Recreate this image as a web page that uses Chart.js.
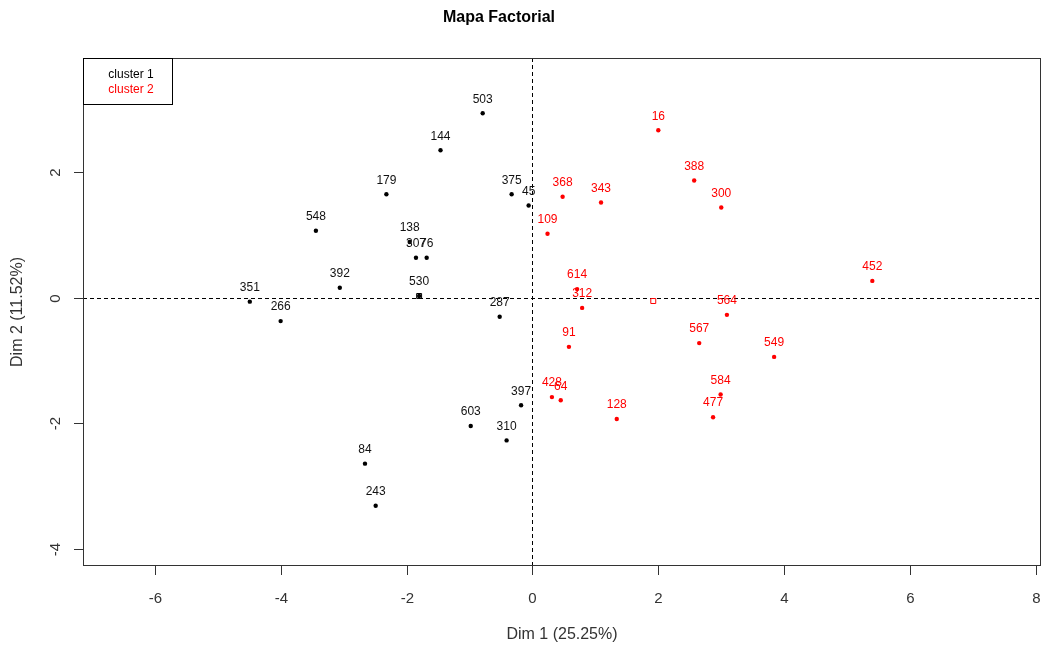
<!DOCTYPE html>
<html><head><meta charset="utf-8">
<script src="https://cdn.jsdelivr.net/npm/chart.js@4/dist/chart.umd.min.js"></script>
<style>html,body{margin:0;padding:0;background:#fff;}canvas{display:block;}</style>
</head><body>
<canvas id="c" width="1042" height="646"></canvas>
<script>
// Cluster 1 (black)
const c1Labels = ['503','144','179','548','138','307','76','392','530','351','266','287','375','45','397','603','310','84','243'];
const c1X = [-0.79,-1.46,-2.32,-3.44,-1.95,-1.85,-1.68,-3.06,-1.80,-4.49,-4.00,-0.52,-0.33,-0.06,-0.18,-0.98,-0.41,-2.66,-2.49];
const c1Y = [2.94,2.35,1.65,1.07,0.89,0.64,0.64,0.16,0.03,-0.06,-0.37,-0.30,1.65,1.47,-1.71,-2.04,-2.27,-2.64,-3.31];
// Cluster 2 (red)
const c2Labels = ['16','388','300','368','343','109','452','614','312','564','567','549','91','428','64','128','584','477'];
const c2X = [2.00,2.57,3.00,0.48,1.09,0.24,5.40,0.71,0.79,3.09,2.65,3.84,0.58,0.31,0.45,1.34,2.99,2.87];
const c2Y = [2.67,1.87,1.44,1.61,1.52,1.02,0.27,0.14,-0.16,-0.27,-0.72,-0.94,-0.78,-1.58,-1.63,-1.93,-1.54,-1.90];
// Cluster centres
const centreX = [-1.80, 1.92];
const centreY = [0.03, -0.05];
// Axis ticks
const xTicks = [-6,-4,-2,0,2,4,6,8];
const yTicks = [-4,-2,0,2];
const legendNames = ['cluster 1','cluster 2'];
const colours = ['#000000','#FF0000'];

const toPts = (xs, ys) => xs.map((v, i) => ({x: v, y: ys[i]}));
const FONT = '"Liberation Sans", Arial, sans-serif';

const drawPlugin = {
  id: 'rstyle',
  beforeDatasetsDraw(chart) {
    const {ctx, chartArea: a, scales: {x, y}} = chart;
    ctx.save();
    ctx.strokeStyle = '#000';
    ctx.lineWidth = 1;
    ctx.setLineDash([4, 3]);
    const x0 = Math.round(x.getPixelForValue(0)) + 0.5;
    const y0 = Math.round(y.getPixelForValue(0)) + 0.5;
    ctx.beginPath(); ctx.moveTo(x0, a.top); ctx.lineTo(x0, a.bottom); ctx.stroke();
    ctx.beginPath(); ctx.moveTo(a.left, y0); ctx.lineTo(a.right, y0); ctx.stroke();
    ctx.restore();
  },
  afterDatasetsDraw(chart) {
    const {ctx, chartArea: a, scales: {x, y}} = chart;
    ctx.save();
    // point labels
    ctx.font = '12px ' + FONT;
    ctx.textAlign = 'center';
    ctx.textBaseline = 'middle';
    [[0, c1Labels], [1, c2Labels]].forEach(([di, labs]) => {
      const meta = chart.getDatasetMeta(di);
      ctx.fillStyle = di === 0 ? '#111' : '#FF0000';
      meta.data.forEach((el, i) => ctx.fillText(labs[i], el.x, el.y - 14));
    });
    // box
    ctx.strokeStyle = '#333';
    ctx.lineWidth = 1;
    ctx.strokeRect(a.left + 0.5, a.top + 0.5, a.right - a.left - 1, a.bottom - a.top - 1);
    // x ticks
    ctx.fillStyle = '#333';
    ctx.font = '15px ' + FONT;
    xTicks.forEach(v => {
      const px = Math.round(x.getPixelForValue(v)) + 0.5;
      ctx.beginPath(); ctx.moveTo(px, a.bottom); ctx.lineTo(px, a.bottom + 9); ctx.stroke();
      ctx.fillText(String(v), px, 599);
    });
    // y ticks (rotated labels)
    yTicks.forEach(v => {
      const py = Math.round(y.getPixelForValue(v)) + 0.5;
      ctx.beginPath(); ctx.moveTo(a.left, py); ctx.lineTo(a.left - 9, py); ctx.stroke();
      ctx.save();
      ctx.translate(56, py);
      ctx.rotate(-Math.PI / 2);
      ctx.fillText(String(v), 0, 0);
      ctx.restore();
    });
    // axis titles
    ctx.font = '16px ' + FONT;
    ctx.fillText('Dim 1 (25.25%)', (a.left + a.right) / 2, 635);
    ctx.save();
    ctx.translate(18, (a.top + a.bottom) / 2);
    ctx.rotate(-Math.PI / 2);
    ctx.fillText('Dim 2 (11.52%)', 0, 0);
    ctx.restore();
    // main title
    ctx.fillStyle = '#000';
    ctx.font = 'bold 16px ' + FONT;
    ctx.fillText('Mapa Factorial', 499, 18);
    // legend
    ctx.strokeStyle = '#000';
    ctx.fillStyle = '#fff';
    ctx.fillRect(a.left, a.top, 89, 46);
    ctx.strokeRect(a.left + 0.5, a.top + 0.5, 89, 46);
    ctx.font = '12px ' + FONT;
    legendNames.forEach((n, i) => {
      ctx.fillStyle = colours[i];
      ctx.fillText(n, a.left + 48, 75 + i * 15);
    });
    ctx.restore();
  }
};

new Chart(document.getElementById('c'), {
  type: 'scatter',
  data: {
    datasets: [
      {data: toPts(c1X, c1Y), backgroundColor: '#000', borderColor: '#000', pointRadius: 2.2, pointHoverRadius: 2.2, borderWidth: 0},
      {data: toPts(c2X, c2Y), backgroundColor: '#FF0000', borderColor: '#FF0000', pointRadius: 2.2, pointHoverRadius: 2.2, borderWidth: 0},
      {data: [{x: centreX[0], y: centreY[0]}], pointStyle: 'rect', backgroundColor: 'rgba(0,0,0,0)', borderColor: '#000', borderWidth: 1, pointRadius: 3.5},
      {data: [{x: centreX[1], y: centreY[1]}], pointStyle: 'rect', backgroundColor: '#fff', borderColor: '#FF0000', borderWidth: 1, pointRadius: 3.5}
    ]
  },
  options: {
    responsive: false,
    devicePixelRatio: 1,
    animation: false,
    layout: {autoPadding: false, padding: {left: 83, top: 58, right: 1, bottom: 80}},
    plugins: {legend: {display: false}, tooltip: {enabled: false}},
    scales: {
      x: {type: 'linear', display: false, min: -7.14, max: 8.08},
      y: {type: 'linear', display: false, min: -4.27, max: 3.82}
    }
  },
  plugins: [drawPlugin]
});
</script>
</body></html>
